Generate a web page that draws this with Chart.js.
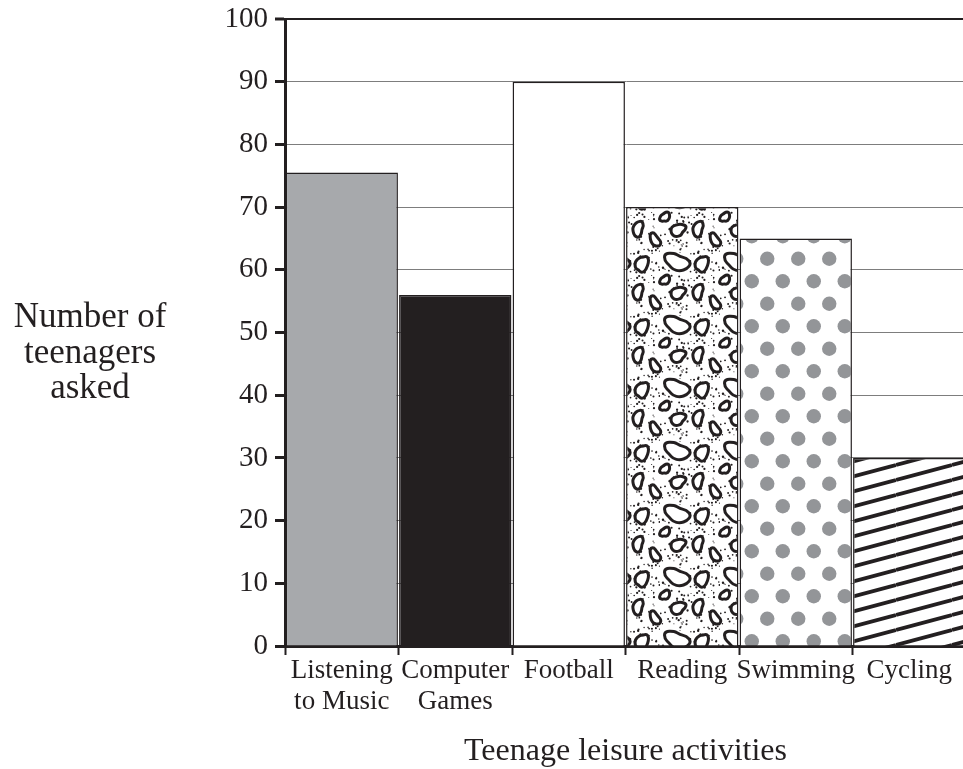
<!DOCTYPE html>
<html>
<head>
<meta charset="utf-8">
<title>Teenage leisure activities</title>
<script src="https://cdn.jsdelivr.net/npm/chart.js@4.4.1/dist/chart.umd.min.js"></script>
<style>
  html, body { margin: 0; padding: 0; background: #fff; overflow: hidden; }
  #wrap { width: 966px; height: 769px; }
</style>
</head>
<body>
<div id="wrap"><canvas id="leisureChart"></canvas></div>
<script>
// Data
const activities = [['Listening', 'to Music'], ['Computer', 'Games'], 'Football', 'Reading', 'Swimming', 'Cycling'];
const teenagers = [75.5, 56, 90, 70, 65, 30];
const yAxisLines = ['Number of', 'teenagers', 'asked'];
const xAxisTitle = 'Teenage leisure activities';

const INK = '#231f20';
const SERIF = '"Liberation Serif", "Times New Roman", serif';

// small seeded generator, only for the stipple texture
function lcg(seed) {
  let s = seed;
  return function() {
    s = (s * 1103515245 + 12345) % 2147483648;
    return s / 2147483648;
  };
}

function makeTile(w, h) {
  const c = document.createElement('canvas');
  c.width = w;
  c.height = h;
  return c;
}

// irregular leopard spot
function drawBlob(ctx, cx, cy, rx, ry, rot, k) {
  const n = 10;
  const pts = [];
  for (let i = 0; i < n; i++) {
    const t = (Math.PI * 2 * i) / n;
    const r = 1 + 0.24 * Math.sin(2 * t + k) + 0.14 * Math.cos(3 * t + 2 * k);
    const px = rx * r * Math.cos(t);
    const py = ry * r * Math.sin(t);
    pts.push([
      cx + px * Math.cos(rot) - py * Math.sin(rot),
      cy + px * Math.sin(rot) + py * Math.cos(rot)
    ]);
  }
  ctx.beginPath();
  const mid = (a, b) => [(a[0] + b[0]) / 2, (a[1] + b[1]) / 2];
  let m = mid(pts[n - 1], pts[0]);
  ctx.moveTo(m[0], m[1]);
  for (let i = 0; i < n; i++) {
    const p = pts[i];
    const q = mid(p, pts[(i + 1) % n]);
    ctx.quadraticCurveTo(p[0], p[1], q[0], q[1]);
  }
  ctx.closePath();
  ctx.fillStyle = '#fff';
  ctx.fill();
  ctx.stroke();
}

function leopardPattern(ctx) {
  const w = 60, h = 63;
  const tile = makeTile(w, h);
  const t = tile.getContext('2d');
  t.fillStyle = '#fff';
  t.fillRect(0, 0, w, h);
  const rnd = lcg(11);
  t.fillStyle = INK;
  for (let i = 0; i < 130; i++) {
    t.beginPath();
    t.arc(rnd() * w, rnd() * h, 0.5 + rnd() * 0.7, 0, Math.PI * 2);
    t.fill();
  }
  t.strokeStyle = INK;
  t.lineWidth = 3;
  const spots = [
    [17, 10, 12, 9, 0.1, 0.5],
    [42, 12, 5.5, 10, 0.35, 1.7],
    [5, 28, 4, 6, 0.4, 2.5],
    [18, 41, 8.5, 5.5, 0, 3.9],
    [38, 40, 6, 7, 0.2, 4.6],
    [55, 51, 5, 6.5, -0.4, 5.3]
  ];
  // draw each spot with its wrapped copies so tiles join cleanly
  spots.forEach(s => {
    for (let dx = -w; dx <= w; dx += w) {
      for (let dy = -h; dy <= h; dy += h) {
        drawBlob(t, s[0] + dx, s[1] + dy, s[2], s[3], s[4], s[5]);
      }
    }
  });
  return ctx.createPattern(tile, 'repeat');
}

function dotPattern(ctx) {
  const tile = makeTile(31, 45);
  const t = tile.getContext('2d');
  t.fillStyle = '#fff';
  t.fillRect(0, 0, 31, 45);
  t.fillStyle = '#939598';
  [[7.75, 11.25], [23.25, 33.75]].forEach(p => {
    t.beginPath();
    t.arc(p[0], p[1], 7.2, 0, Math.PI * 2);
    t.fill();
  });
  return ctx.createPattern(tile, 'repeat');
}

function stripePattern(ctx) {
  const w = 56, h = 15;
  const tile = makeTile(w, h);
  const t = tile.getContext('2d');
  t.fillStyle = '#fff';
  t.fillRect(0, 0, w, h);
  t.strokeStyle = INK;
  t.lineWidth = 3.8;
  for (let k = -1; k <= 1; k++) {
    t.beginPath();
    t.moveTo(0, h + k * h);
    t.lineTo(w, k * h);
    t.stroke();
  }
  return ctx.createPattern(tile, 'repeat');
}

const canvas = document.getElementById('leisureChart');
const ctx = canvas.getContext('2d');

const barFills = [
  '#a7a9ac',
  INK,
  '#ffffff',
  leopardPattern(ctx),
  dotPattern(ctx),
  stripePattern(ctx)
];

// y axis title written horizontally, three lines, left of the ticks
const yTitlePlugin = {
  id: 'yTitle',
  afterDraw(chart) {
    const c = chart.ctx;
    const area = chart.chartArea;
    const mid = (area.top + area.bottom) / 2;
    c.save();
    c.font = '35px ' + SERIF;
    c.fillStyle = INK;
    c.textAlign = 'center';
    c.textBaseline = 'alphabetic';
    yAxisLines.forEach((line, i) => {
      c.fillText(line, 90, mid - 5.5 + i * 35.5);
    });
    c.restore();
  }
};

new Chart(canvas, {
  type: 'bar',
  data: {
    labels: activities,
    datasets: [{
      data: teenagers,
      backgroundColor: barFills,
      borderColor: INK,
      borderWidth: 1.5,
      barPercentage: 0.99,
      categoryPercentage: 1
    }]
  },
  options: {
    responsive: true,
    maintainAspectRatio: false,
    animation: false,
    layout: {
      padding: { top: 19, left: 0, right: 0, bottom: 0 }
    },
    plugins: {
      legend: { display: false },
      tooltip: { enabled: false }
    },
    scales: {
      x: {
        offset: true,
        afterFit(scale) {
          scale.height = 123;
        },
        border: { display: true, color: INK, width: 3 },
        grid: {
          offset: true,
          drawOnChartArea: false,
          drawTicks: true,
          tickLength: 9,
          tickColor: INK,
          tickWidth: 2
        },
        ticks: {
          autoSkip: false,
          maxRotation: 0,
          minRotation: 0,
          padding: 0,
          color: INK,
          font: { family: SERIF, size: 27, lineHeight: 1.15 }
        },
        title: {
          display: true,
          text: xAxisTitle,
          color: INK,
          padding: 0,
          font: { family: SERIF, size: 32, lineHeight: 1.1 }
        }
      },
      y: {
        min: 0,
        max: 100,
        afterFit(scale) {
          scale.width = 285;
          // the top label may sit in the layout padding
          scale.paddingTop = 0;
          scale.paddingBottom = 0;
        },
        border: { display: true, color: INK, width: 3 },
        grid: {
          color: c => (c.tick && c.tick.value === 100 ? INK : '#7d7d7d'),
          lineWidth: c => (c.tick && c.tick.value === 100 ? 2 : 1),
          tickLength: 10,
          tickColor: INK,
          tickWidth: 3
        },
        ticks: {
          stepSize: 10,
          padding: 7,
          color: INK,
          font: { family: SERIF, size: 29 }
        }
      }
    }
  },
  plugins: [yTitlePlugin]
});
</script>
</body>
</html>
